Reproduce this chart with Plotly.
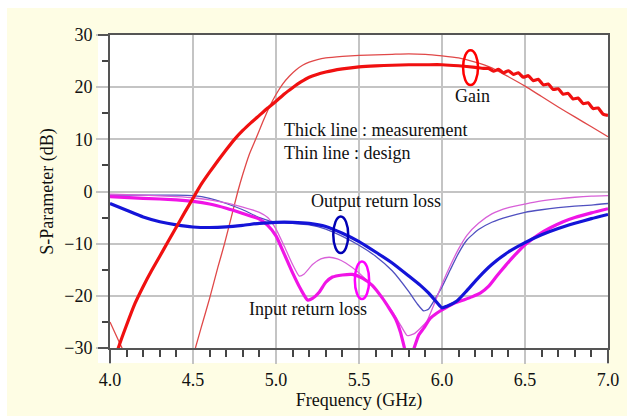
import plotly.graph_objects as go

# ---------------- data ----------------
gain_meas_f = [4.00, 4.05, 4.10, 4.15, 4.20, 4.25, 4.30, 4.35, 4.40, 4.45, 4.50, 4.55, 4.60,
               4.65, 4.70, 4.75, 4.80, 4.85, 4.90, 4.95, 5.00, 5.05, 5.10, 5.15, 5.20, 5.30,
               5.40, 5.50, 5.60, 5.70, 5.80, 5.90, 6.00, 6.10, 6.20, 6.25,
               6.28, 6.31, 6.34, 6.37, 6.40, 6.43, 6.46, 6.49, 6.52, 6.55, 6.58, 6.61, 6.64,
               6.67, 6.70, 6.73, 6.76, 6.79, 6.82, 6.85, 6.88, 6.91, 6.94, 6.97, 7.00]
gain_meas_db = [-35.0, -30.0, -25.6, -21.5, -18.2, -15.2, -12.4, -9.6, -6.8, -4.0, -1.3, 1.4, 3.7,
                5.9, 8.0, 10.0, 11.7, 13.2, 14.6, 16.0, 17.3, 18.7, 19.9, 21.0, 21.9, 22.9,
                23.5, 23.9, 24.1, 24.2, 24.3, 24.3, 24.3, 24.1, 23.8, 23.6,
                23.6, 23.05, 23.4, 22.75, 23.15, 22.45, 22.75, 21.9, 22.2, 21.25, 21.5, 20.45, 20.6,
                19.55, 19.7, 18.65, 18.8, 17.75, 17.9, 16.85, 17.0, 15.9, 16.0, 14.85, 14.6]

gain_design_f = [4.00, 4.04, 4.08, 4.15, 4.30, 4.45, 4.51, 4.55, 4.60, 4.65, 4.69, 4.73, 4.77,
                 4.80, 4.84, 4.88, 4.92, 4.96, 5.00, 5.04, 5.08, 5.12, 5.16, 5.20, 5.25, 5.30,
                 5.40, 5.50, 5.60, 5.70, 5.80, 5.90, 6.00, 6.10, 6.20, 6.30, 6.40, 6.50, 6.60,
                 6.70, 6.80, 6.90, 7.00]
gain_design_db = [-25.0, -27.8, -30.5, -35.0, -40.0, -37.0, -30.5, -26.0, -20.5, -14.5, -10.0, -5.0, 0.0,
                  3.3, 7.2, 10.2, 13.3, 16.2, 18.6, 20.6, 22.1, 23.3, 24.2, 24.8, 25.3, 25.6,
                  25.9, 26.1, 26.2, 26.3, 26.4, 26.3, 26.0, 25.6, 24.8, 23.7, 22.0, 20.2, 18.2,
                  16.2, 14.3, 12.4, 10.5]

out_meas_f = [4.00, 4.10, 4.20, 4.30, 4.40, 4.50, 4.60, 4.70, 4.80, 4.90, 5.00, 5.10, 5.20,
              5.30, 5.40, 5.50, 5.60, 5.70, 5.80, 5.87, 5.92, 5.97, 6.00, 6.03, 6.09, 6.15,
              6.22, 6.30, 6.40, 6.50, 6.60, 6.70, 6.80, 6.90, 7.00]
out_meas_db = [-2.3, -3.6, -4.9, -5.8, -6.4, -6.8, -6.9, -6.8, -6.5, -6.1, -5.9, -5.9, -6.1,
               -6.7, -8.0, -9.6, -11.6, -13.7, -16.2, -18.0, -19.5, -21.3, -22.3, -22.0, -21.0, -19.0,
               -16.5, -14.0, -11.6, -9.8, -8.3, -7.1, -6.1, -5.2, -4.4]

out_design_f = [4.00, 4.20, 4.40, 4.50, 4.60, 4.70, 4.80, 4.90, 5.00, 5.10, 5.20, 5.30, 5.40,
                5.50, 5.60, 5.70, 5.80, 5.85, 5.89, 5.92, 5.96, 6.00, 6.05, 6.10, 6.15, 6.22,
                6.30, 6.40, 6.50, 6.60, 6.70, 6.80, 6.90, 7.00]
out_design_db = [-0.7, -0.7, -0.7, -0.8, -1.3, -2.3, -3.5, -5.0, -5.9, -6.1, -6.4, -7.2, -8.6,
                 -10.3, -12.4, -15.2, -19.2, -21.5, -22.9, -22.5, -20.5, -18.3, -15.0, -11.8, -9.3, -7.3,
                 -5.9, -4.8, -4.0, -3.5, -3.1, -2.8, -2.6, -2.3]

in_meas_f = [4.00, 4.20, 4.40, 4.50, 4.60, 4.70, 4.80, 4.90, 4.95, 5.00, 5.05, 5.10, 5.15,
             5.19, 5.22, 5.26, 5.30, 5.34, 5.40, 5.46, 5.52, 5.58, 5.64, 5.68, 5.72, 5.75,
             5.77, 5.80, 5.83, 5.86, 5.89, 5.93, 5.97, 6.00, 6.06, 6.12, 6.18, 6.23, 6.28,
             6.33, 6.38, 6.43, 6.50, 6.58, 6.65, 6.73, 6.80, 6.90, 7.00]
in_meas_db = [-1.0, -1.3, -1.6, -1.9, -2.4, -3.2, -4.2, -5.3, -6.5, -8.5, -12.0, -15.6, -18.8,
              -20.8, -20.5, -19.3, -17.4, -16.4, -16.0, -15.9, -16.6, -18.0, -20.4, -22.3, -24.4, -27.0,
              -29.5, -33.0, -30.2, -27.5, -26.2, -24.3, -23.3, -22.7, -21.6, -20.9, -20.2, -19.5, -18.2,
              -16.2, -14.3, -12.5, -10.2, -8.3, -7.0, -5.8, -5.0, -4.1, -3.3]

in_design_f = [4.00, 4.20, 4.40, 4.50, 4.60, 4.70, 4.80, 4.90, 4.95, 5.00, 5.05, 5.10, 5.14,
               5.17, 5.22, 5.27, 5.32, 5.37, 5.42, 5.50, 5.60, 5.70, 5.75, 5.79, 5.83, 5.87,
               5.91, 5.95, 6.00, 6.05, 6.10, 6.15, 6.22, 6.30, 6.40, 6.50, 6.60, 6.70, 6.80,
               6.90, 7.00]
in_design_db = [-0.5, -0.7, -1.0, -1.2, -1.6, -2.2, -3.0, -4.0, -5.0, -7.2, -10.5, -14.0, -16.2,
                -15.8, -14.0, -12.9, -12.6, -12.9, -13.7, -15.6, -18.8, -23.0, -25.6, -27.6, -27.3, -26.2,
                -24.8, -21.8, -17.8, -14.2, -11.0, -8.4, -6.1, -4.3, -3.1, -2.4, -1.8, -1.4, -1.1,
                -0.9, -0.8]

x_ticks = [4.0, 4.5, 5.0, 5.5, 6.0, 6.5, 7.0]
y_ticks = [-30, -20, -10, 0, 10, 20, 30]

# ---------------- figure ----------------
FONT = "Liberation Serif"
RED, RED_T = "#f01010", "#e04848"
BLUE, BLUE_T = "#1414d8", "#5050c0"
MAG, MAG_T = "#f014e6", "#d860d8"

fig = go.Figure()
series = [
    (gain_design_f, gain_design_db, RED_T, 1.3),
    (out_design_f, out_design_db, BLUE_T, 1.3),
    (in_design_f, in_design_db, MAG_T, 1.3),
    (in_meas_f, in_meas_db, MAG, 3.2),
    (out_meas_f, out_meas_db, BLUE, 3.2),
    (gain_meas_f, gain_meas_db, RED, 3.2),
]
for fx, fy, col, w in series:
    fig.add_trace(go.Scatter(x=fx, y=fy, mode="lines",
                             line=dict(color=col, width=w, shape="spline", smoothing=0.5),
                             showlegend=False, hoverinfo="skip"))

W, H = 633, 416
ml, mr, mt, mb = 110, 25, 35, 68
pw, ph = W - ml - mr, H - mt - mb

def px_x(p):
    return (p - ml) / pw

def px_y(p):
    return (H - mb - p) / ph

shapes = [
    # cream background panel
    dict(type="rect", xref="paper", yref="paper", x0=px_x(7), x1=px_x(627), y0=px_y(416), y1=px_y(8),
         fillcolor="#fefde4", line=dict(width=0), layer="below"),
    # white plot panel (extends beyond axes on left and bottom)
    dict(type="rect", xref="paper", yref="paper", x0=px_x(98), x1=1, y0=px_y(363), y1=1,
         fillcolor="white", line=dict(width=0), layer="below"),
    # frame line extensions
    dict(type="line", xref="paper", yref="paper", x0=px_x(98), x1=0, y0=0, y1=0,
         line=dict(color="#555555", width=2)),
    dict(type="line", xref="paper", yref="paper", x0=px_x(98), x1=0, y0=1, y1=1,
         line=dict(color="#555555", width=2)),
    dict(type="line", xref="paper", yref="paper", x0=0, x1=0, y0=px_y(363), y1=0,
         line=dict(color="#555555", width=2)),
    dict(type="line", xref="paper", yref="paper", x0=1, x1=1, y0=px_y(363), y1=0,
         line=dict(color="#555555", width=2)),
    # ellipses
    dict(type="circle", xref="x", yref="y", x0=6.127, x1=6.217, y0=20.4, y1=27.1,
         line=dict(color="#ff0000", width=2.5)),
    dict(type="circle", xref="x", yref="y", x0=5.345, x1=5.435, y0=-11.8, y1=-4.8,
         line=dict(color="#0000b4", width=2.5)),
    dict(type="circle", xref="x", yref="y", x0=5.475, x1=5.561, y0=-20.6, y1=-13.4,
         line=dict(color="#ff00ff", width=2.5)),
]

tf = dict(family=FONT, size=18, color="#111111")
annotations = [
    dict(x=5.035, y=11.8, text="Thick line : measurement", xanchor="left", yanchor="middle"),
    dict(x=5.035, y=7.4, text="Thin line : design", xanchor="left", yanchor="middle"),
    dict(x=6.182, y=18.4, text="Gain", xanchor="center", yanchor="middle"),
    dict(x=5.198, y=-1.9, text="Output return loss", xanchor="left", yanchor="middle"),
    dict(x=4.825, y=-22.6, text="Input return loss", xanchor="left", yanchor="middle"),
]
for a in annotations:
    a.update(xref="x", yref="y", showarrow=False, font=tf)

fig.update_layout(
    width=W, height=H, autosize=False,
    margin=dict(l=ml, r=mr, t=mt, b=mb, pad=0),
    paper_bgcolor="white", plot_bgcolor="rgba(0,0,0,0)",
    font=dict(family=FONT, size=18, color="#111111"),
    shapes=shapes, annotations=annotations,
    showlegend=False,
)
fig.update_xaxes(
    range=[4, 7], tickvals=x_ticks, ticktext=[f"{v:.1f}" for v in x_ticks],
    showgrid=True, gridcolor="#c4c4c4", gridwidth=1.6,
    showline=True, linecolor="#555555", linewidth=2, mirror=True,
    ticks="outside", ticklen=14, tickcolor="#c4c4c4", tickwidth=1.6,
    minor=dict(dtick=0.1, tick0=4.0, ticks="outside", ticklen=7, tickcolor="#444444",
               tickwidth=1.5, showgrid=False),
    tickfont=dict(family=FONT, size=18, color="#111111"),
    title=dict(text="Frequency (GHz)", font=dict(family=FONT, size=18, color="#111111"), standoff=2),
    zeroline=False, fixedrange=True, automargin=False,
)
fig.update_yaxes(
    range=[-30, 30], tickvals=y_ticks,
    showgrid=True, gridcolor="#c4c4c4", gridwidth=1.6,
    showline=True, linecolor="#555555", linewidth=2, mirror=True,
    ticks="outside", ticklen=12, tickcolor="#c4c4c4", tickwidth=1.6,
    minor=dict(dtick=5, tick0=-30, ticks="outside", ticklen=6, tickcolor="#444444",
               tickwidth=1.5, showgrid=False),
    tickfont=dict(family=FONT, size=18, color="#111111"),
    title=dict(text="S-Parameter (dB)", font=dict(family=FONT, size=18, color="#111111"), standoff=6),
    zeroline=False, fixedrange=True, automargin=False,
)

fig.write_html("out.html", config={"displayModeBar": False},
               post_script="document.body.style.margin='0';document.body.style.padding='0';")
